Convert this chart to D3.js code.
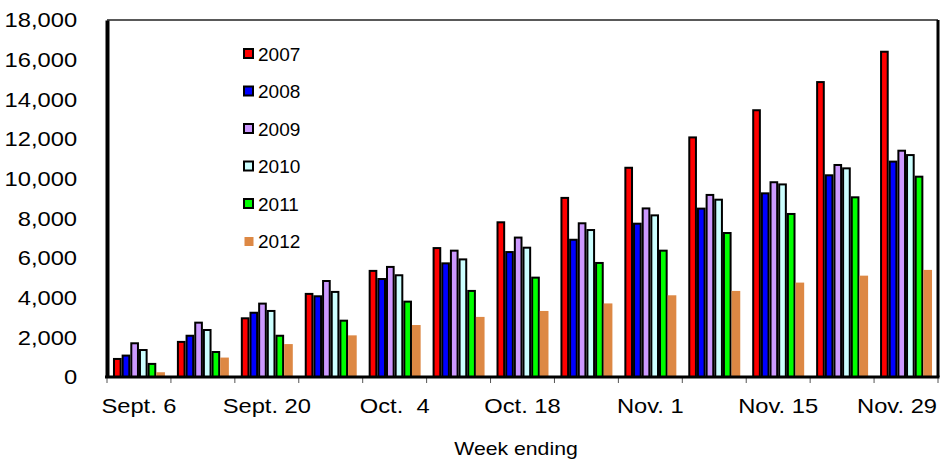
<!DOCTYPE html>
<html lang="en">
<head>
    <meta charset="UTF-8">
    <script src="https://cdn.jsdelivr.net/npm/d3@7"></script>
    <title>Weekly totals</title>
    <style>
        body { margin: 0; background: #fff; }
        text { font-family: "Liberation Sans", Arial, sans-serif; fill: #000; }
    </style>
</head>
<body>
    <script>
        const w = 948;
        const h = 459;

        const weeks = ["Sept. 6", "Sept. 13", "Sept. 20", "Sept. 27", "Oct.  4", "Oct. 11", "Oct. 18",
                       "Oct. 25", "Nov. 1", "Nov. 8", "Nov. 15", "Nov. 22", "Nov. 29"];
        const shownWeeks = ["Sept. 6", "Sept. 20", "Oct.  4", "Oct. 18", "Nov. 1", "Nov. 15", "Nov. 29"];
        const years = ["2007", "2008", "2009", "2010", "2011", "2012"];
        const colors = ["#FF0000", "#0000FF", "#CC99FF", "#CCFFFF", "#00FF00", "#DD8844"];

        const v2007 = [910, 1770, 2960, 4190, 5350, 6500, 7800, 9030, 10550, 12080, 13450, 14870, 16400];
        const v2008 = [1080, 2080, 3240, 4070, 4940, 5730, 6300, 6920, 7730, 8490, 9260, 10170, 10860];
        const v2009 = [1700, 2740, 3700, 4840, 5550, 6370, 7030, 7750, 8500, 9180, 9820, 10690, 11410];
        const v2010 = [1360, 2370, 3330, 4290, 5130, 5930, 6520, 7410, 8150, 8940, 9710, 10520, 11190];
        const v2011 = [660, 1260, 2080, 2840, 3800, 4340, 5010, 5750, 6370, 7260, 8220, 9060, 10100];
        const v2012 = [240, 980, 1660, 2100, 2620, 3030, 3330, 3710, 4120, 4340, 4760, 5110, 5400];
        const series = [v2007, v2008, v2009, v2010, v2011, v2012];

        const yTicks = [0, 2000, 4000, 6000, 8000, 10000, 12000, 14000, 16000, 18000];

        const margin = {left: 107, right: 10, top: 20, bottom: 82};
        const stretch = 1.13; // the original lettering is a bit wider than Arial

        const svg = d3.select("body")
                        .append("svg")
                        .attr("width", w)
                        .attr("height", h);

        const x0 = d3.scaleBand()
                        .domain(weeks)
                        .range([margin.left, w - margin.right])
                        .padding(0);

        const x1 = d3.scaleBand()
                        .domain(years)
                        .range([0, x0.bandwidth()])
                        .paddingInner(0)
                        .paddingOuter(0.69);

        const y = d3.scaleLinear()
                        .domain([0, 18000])
                        .range([h - margin.bottom, margin.top]);

        // bars
        const groups = svg.selectAll("g.week")
                            .data(weeks)
                            .enter()
                            .append("g")
                            .attr("class", "week")
                            .attr("transform", (d) => "translate(" + x0(d) + ",0)");

        groups.selectAll("rect")
            .data((d, i) => years.map((yr, j) => ({year: yr, j: j, value: series[j][i]})))
            .enter()
            .append("rect")
            .attr("x", (d) => x1(d.year) + (d.j === 5 ? 0 : 1))
            .attr("width", (d) => x1.bandwidth() - (d.j === 5 ? 0 : 2))
            .attr("y", (d) => y(d.value))
            .attr("height", (d) => y(0) - y(d.value))
            .attr("fill", (d) => colors[d.j])
            .attr("stroke", (d) => d.j === 5 ? "none" : "#000")
            .attr("stroke-width", 2);

        // frame
        const x0r = x0.range();
        svg.append("line")
            .attr("x1", x0r[0]).attr("x2", x0r[1])
            .attr("y1", margin.top).attr("y2", margin.top)
            .attr("stroke", "#222").attr("stroke-width", 1.5);
        svg.append("line")
            .attr("x1", x0r[1]).attr("x2", x0r[1])
            .attr("y1", margin.top).attr("y2", y(0))
            .attr("stroke", "#000").attr("stroke-width", 3);

        // x axis, ticks between weeks
        const xAxis = d3.axisBottom(x0)
                        .tickValues(shownWeeks)
                        .tickSize(0)
                        .tickPadding(21);
        const gx = svg.append("g")
                        .attr("transform", "translate(0," + y(0) + ")")
                        .call(xAxis);
        gx.select(".domain").remove();
        gx.selectAll("text")
            .attr("transform", (d, i) => "translate(" + (i === shownWeeks.length - 1 ? -9 : 0) + ",0) scale(" + stretch + ",1)")
            .style("font-size", "21px")
            .style("font-family", "'Liberation Sans', Arial, sans-serif")
            .style("white-space", "pre");

        svg.append("g")
            .selectAll("line")
            .data(d3.range(weeks.length + 1))
            .enter()
            .append("line")
            .attr("x1", (d) => x0r[0] + d * x0.step())
            .attr("x2", (d) => x0r[0] + d * x0.step())
            .attr("y1", y(0) + 1)
            .attr("y2", y(0) + 6)
            .attr("stroke", "#555")
            .attr("stroke-width", 1);

        svg.append("line")
            .attr("x1", x0r[0] - 2).attr("x2", x0r[1] + 1.5)
            .attr("y1", y(0)).attr("y2", y(0))
            .attr("stroke", "#000").attr("stroke-width", 3);

        // y axis
        const yAxis = d3.axisLeft(y)
                        .tickValues(yTicks)
                        .tickFormat(d3.format(","))
                        .tickSize(0)
                        .tickPadding(26.5);
        const gy = svg.append("g")
                        .attr("transform", "translate(" + margin.left + ",0)")
                        .call(yAxis);
        gy.select(".domain")
            .attr("stroke", "#000")
            .attr("stroke-width", 4);
        gy.selectAll("text")
            .attr("transform", "scale(" + stretch + ",1)")
            .style("font-size", "21px")
            .style("font-family", "'Liberation Sans', Arial, sans-serif");

        // axis title
        svg.append("text")
            .attr("transform", "translate(516,455) scale(1.18,1)")
            .attr("text-anchor", "middle")
            .style("font-size", "18px")
            .text("Week ending");

        // legend
        const legend = svg.append("g")
                            .attr("transform", "translate(243,54)");
        const items = legend.selectAll("g")
                            .data(years)
                            .enter()
                            .append("g")
                            .attr("transform", (d, i) => "translate(0," + i * 37.5 + ")");
        items.append("rect")
            .attr("x", (d, i) => i === 5 ? 1.5 : 1)
            .attr("y", (d, i) => i === 5 ? -4.5 : -5)
            .attr("width", 9)
            .attr("height", 9)
            .attr("fill", (d, i) => colors[i])
            .attr("stroke", (d, i) => i === 5 ? "none" : "#000")
            .attr("stroke-width", 2);
        items.append("text")
            .attr("x", 15)
            .attr("y", 0)
            .attr("dy", "0.35em")
            .style("font-size", "19px")
            .text((d) => d);
    </script>
</body>
</html>
